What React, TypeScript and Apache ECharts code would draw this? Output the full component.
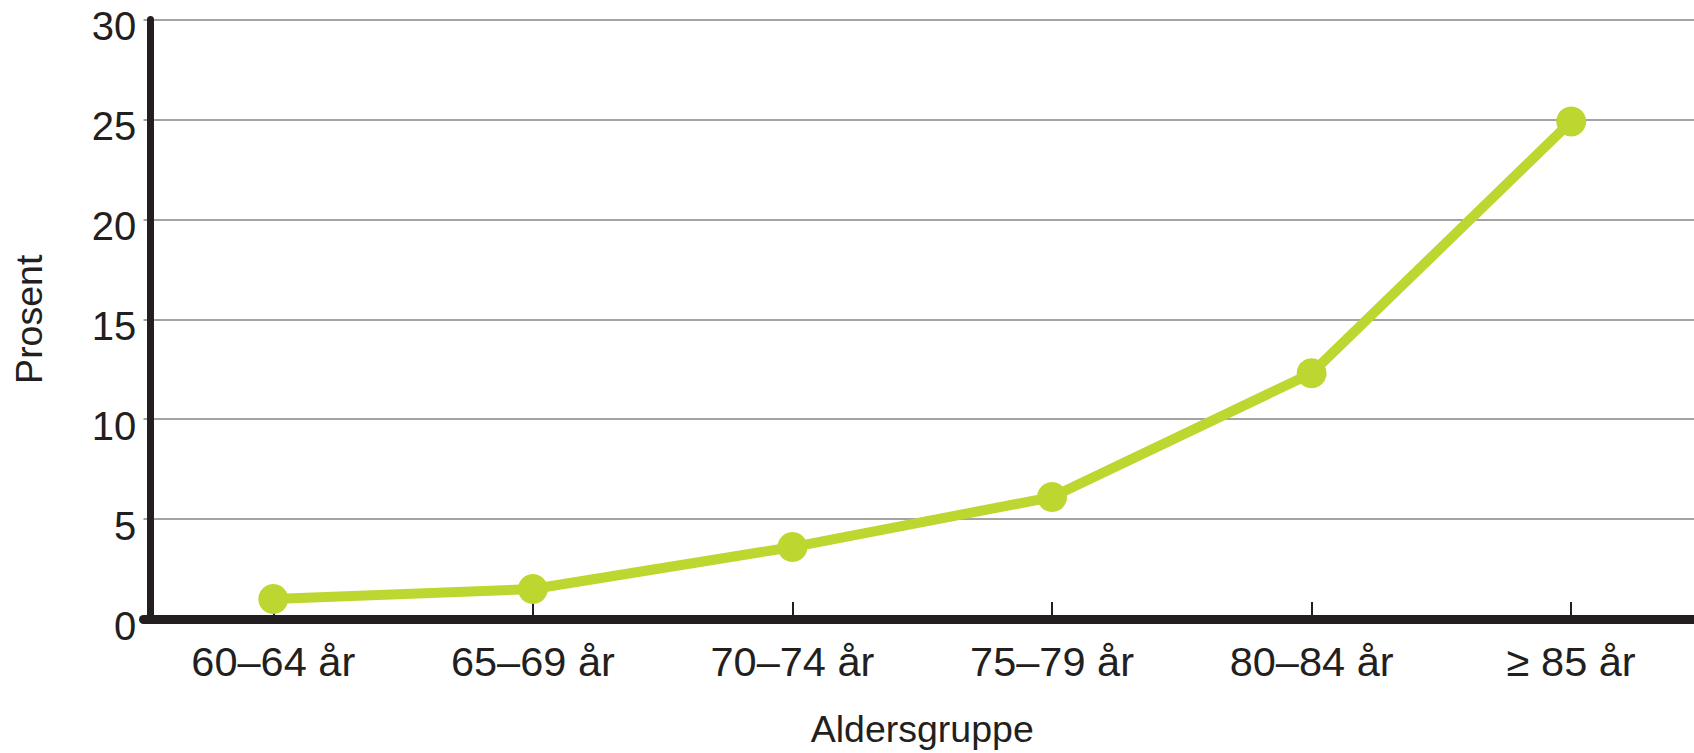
import React, { useEffect, useRef } from "react";
import * as echarts from "echarts";

const categories = ["60–64 år", "65–69 år", "70–74 år", "75–79 år", "80–84 år", "≥ 85 år"];
const values = [1.0, 1.5, 3.6, 6.1, 12.3, 24.9];
const yTicks = { min: 0, max: 30, interval: 5 };
const xName = "Aldersgruppe";
const yName = "Prosent";

const FONT = "'Liberation Sans', Arial, sans-serif";
const INK = "#231f20";

export default function App() {
  const ref = useRef<HTMLDivElement>(null);
  useEffect(() => {
    document.body.style.margin = "0";
    document.body.style.overflow = "hidden";
    document.documentElement.style.overflow = "hidden";
    if (!ref.current) return;
    const chart = echarts.init(ref.current, null, { renderer: "svg" });
    chart.setOption({
      animation: false,
      backgroundColor: "#ffffff",
      grid: { left: 143.5, right: 0, top: 19.5, bottom: 132, containLabel: false },
      xAxis: {
        type: "category",
        data: categories,
        boundaryGap: true,
        name: xName,
        nameLocation: "middle",
        nameGap: 91,
        nameTextStyle: { fontFamily: FONT, fontSize: 37.5, color: INK },
        axisLine: { show: true, lineStyle: { color: INK, width: 9 } },
        axisTick: { show: true, inside: true, alignWithLabel: true, length: 17, lineStyle: { color: INK, width: 2 } },
        axisLabel: { fontFamily: FONT, fontSize: 41.5, color: INK, margin: 21, interval: 0 },
        splitLine: { show: false },
      },
      yAxis: {
        type: "value",
        min: yTicks.min,
        max: yTicks.max,
        interval: yTicks.interval,
        offset: -6.8,
        name: yName,
        nameLocation: "middle",
        nameRotate: 90,
        nameGap: 102,
        nameTextStyle: { fontFamily: FONT, fontSize: 37.5, color: INK },
        axisLine: { show: true, lineStyle: { color: INK, width: 7 } },
        axisTick: { show: false },
        axisLabel: {
          fontFamily: FONT,
          fontSize: 40,
          color: INK,
          margin: 14,
          verticalAlign: "top",
          lineHeight: 13,
        },
        splitLine: { show: true, lineStyle: { color: "#a3a3a3", width: 2 } },
      },
      series: [
        {
          type: "line",
          data: values,
          symbol: "circle",
          symbolSize: 30,
          lineStyle: { color: "#bdd630", width: 10 },
          itemStyle: { color: "#bdd630" },
          z: 5,
        },
      ],
    });
    return () => chart.dispose();
  }, []);
  return <div ref={ref} style={{ width: 1701, height: 753 }} />;
}
